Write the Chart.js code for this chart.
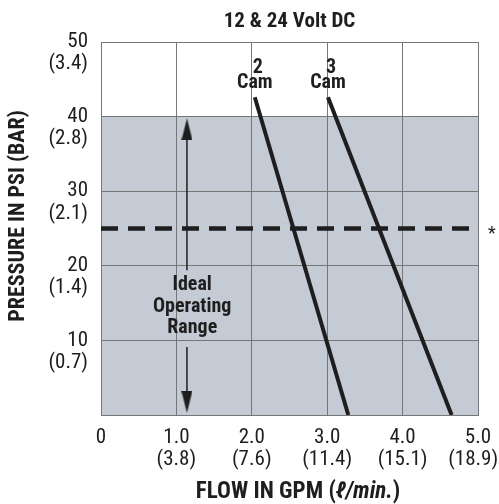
<!DOCTYPE html>
<html lang="en">
<head>
<meta charset="UTF-8">
<title>12 & 24 Volt DC</title>
<style>
    html, body { margin: 0; padding: 0; background: #fff; }
    canvas { display: block; }
</style>
</head>
<body>
<canvas id="grafico" width="499" height="504"></canvas>

<script src="https://cdn.jsdelivr.net/npm/chart.js"></script>
<script>
    // dados
    const flowLabels = [['0'], ['1.0', '(3.8)'], ['2.0', '(7.6)'], ['3.0', '(11.4)'], ['4.0', '(15.1)'], ['5.0', '(18.9)\u00a0\u00a0']];
    const psiLabels = ['', ['', '10', '(0.7)'], ['', '20', '(1.4)'], ['', '30', '(2.1)'], ['', '40', '(2.8)'], ['', '50', '(3.4)']];

    const cam2Flow = [2.04, 3.28];
    const cam2Psi = [42.6, 0];
    const cam3Flow = [3.01, 4.65];
    const cam3Psi = [42.6, 0];

    const rangeFlow = [0, 5];
    const rangePsi = [40, 40];
    const markFlow = [0, 5];
    const markPsi = [25, 25];

    const arrowFlow = [1.14, 1.14];
    const upArrowPsi = [19.4, 38.3];
    const downArrowPsi = [9.1, 1.75];
    const idealPos = [1.21, 14.5];

    const narrow = '"Roboto Condensed", "DejaVu Sans Condensed", sans-serif';
    const ink = '#1e1e1e';

    function pontos(xs, ys) {
        return xs.map(function (x, i) { return { x: x, y: ys[i] }; });
    }

    // ponta de seta (triangulo alongado)
    const seta = document.createElement('canvas');
    seta.width = 11;
    seta.height = 22;
    const sctx = seta.getContext('2d');
    sctx.fillStyle = ink;
    sctx.beginPath();
    sctx.moveTo(5.5, 0);
    sctx.lineTo(11, 22);
    sctx.lineTo(0, 22);
    sctx.closePath();
    sctx.fill();

    const textos = {
        id: 'textos',
        afterDraw: function (chart) {
            const ctx = chart.ctx;
            const x = chart.scales.x;
            const y = chart.scales.y;
            const area = chart.chartArea;
            ctx.save();
            ctx.fillStyle = ink;
            ctx.textAlign = 'center';
            ctx.textBaseline = 'middle';

            ctx.font = 'bold 21px ' + narrow;
            ctx.fillText('12 & 24 Volt DC', (area.left + area.right) / 2, 22);

            // cam labels
            ctx.font = 'bold 20px ' + narrow;
            [[cam2Flow, cam2Psi, '2'], [cam3Flow, cam3Psi, '3']].forEach(function (c) {
                const px = x.getPixelForValue(c[0][0]);
                const py = y.getPixelForValue(c[1][0]);
                ctx.fillText(c[2], px + 3, py - 29);
                ctx.fillText('Cam', px, py - 14);
            });

            // ideal operating range
            const ix = x.getPixelForValue(idealPos[0]);
            const iy = y.getPixelForValue(idealPos[1]);
            ctx.fillText('Ideal', ix, iy - 21.5);
            ctx.fillText('Operating', ix, iy);
            ctx.fillText('Range', ix, iy + 21.5);

            // asterisco
            ctx.font = '18px ' + narrow;
            ctx.textBaseline = 'alphabetic';
            ctx.fillText('*', area.right + 14, y.getPixelForValue(markPsi[0]) + 10);

            // titulo do eixo x com parte italica
            ctx.textBaseline = 'middle';
            ctx.textAlign = 'left';
            const partes = [['FLOW IN GPM (', 'bold 23px '], ['\u2113/min.', 'italic bold 23px '], [')', 'bold 23px ']];
            let total = 0;
            partes.forEach(function (p) { ctx.font = p[1] + narrow; total += ctx.measureText(p[0]).width; });
            let tx = 298 - total / 2;
            partes.forEach(function (p) {
                ctx.font = p[1] + narrow;
                ctx.fillText(p[0], tx, 492);
                tx += ctx.measureText(p[0]).width;
            });

            // titulo do eixo y
            ctx.textAlign = 'center';
            ctx.translate(18, 216);
            ctx.rotate(-Math.PI / 2);
            ctx.font = 'bold 22px ' + narrow;
            ctx.fillText('PRESSURE IN PSI (BAR)', 0, 0);
            ctx.restore();
        }
    };

    const linha = { borderColor: ink, backgroundColor: ink, pointRadius: 0, fill: false, borderCapStyle: 'butt' };

    const grafico = new Chart(document.getElementById('grafico'), {
        type: 'line',
        data: {
            datasets: [
                {
                    data: pontos(rangeFlow, rangePsi),
                    borderWidth: 0,
                    pointRadius: 0,
                    fill: 'origin',
                    backgroundColor: '#c4cbd4'
                },
                Object.assign({}, linha, { data: pontos(markFlow, markPsi), borderWidth: 4.5, borderDash: [17, 10] }),
                Object.assign({}, linha, { data: pontos(cam2Flow, cam2Psi), borderWidth: 4 }),
                Object.assign({}, linha, { data: pontos(cam3Flow, cam3Psi), borderWidth: 4 }),
                Object.assign({}, linha, {
                    data: pontos(arrowFlow, upArrowPsi), borderWidth: 1.5,
                    pointRadius: [0, 6], pointStyle: seta, pointRotation: 0
                }),
                Object.assign({}, linha, {
                    data: pontos(arrowFlow, downArrowPsi), borderWidth: 1.5,
                    pointRadius: [0, 6], pointStyle: seta, pointRotation: 180
                })
            ]
        },
        options: {
            responsive: false,
            animation: false,
            events: [],
            layout: { padding: { left: 0, right: 21, top: 42, bottom: 0 } },
            plugins: {
                legend: { display: false },
                tooltip: { enabled: false },
                filler: { drawTime: 'beforeDraw' }
            },
            scales: {
                x: {
                    type: 'linear',
                    min: 0,
                    max: 5,
                    ticks: {
                        stepSize: 1,
                        padding: 12,
                        color: ink,
                        font: { family: narrow, size: 21, lineHeight: 1.05 },
                        maxRotation: 0,
                        autoSkip: false,
                        callback: function (v, i) { return flowLabels[i]; }
                    },
                    grid: { color: '#767676', lineWidth: 1, drawTicks: false },
                    border: { color: '#767676' },
                    afterFit: function (s) { s.height = 89; s.paddingLeft = 0; s.paddingRight = 0; }
                },
                y: {
                    min: 0,
                    max: 50,
                    ticks: {
                        stepSize: 10,
                        padding: 13,
                        color: ink,
                        font: { family: narrow, size: 21, lineHeight: 1.05 },
                        callback: function (v, i) { return psiLabels[i]; }
                    },
                    grid: { color: '#767676', lineWidth: 1, drawTicks: false },
                    border: { color: '#767676' },
                    afterFit: function (s) { s.width = 101; s.paddingTop = 0; s.paddingBottom = 0; }
                }
            }
        },
        plugins: [textos]
    });
</script>
</body>
</html>
